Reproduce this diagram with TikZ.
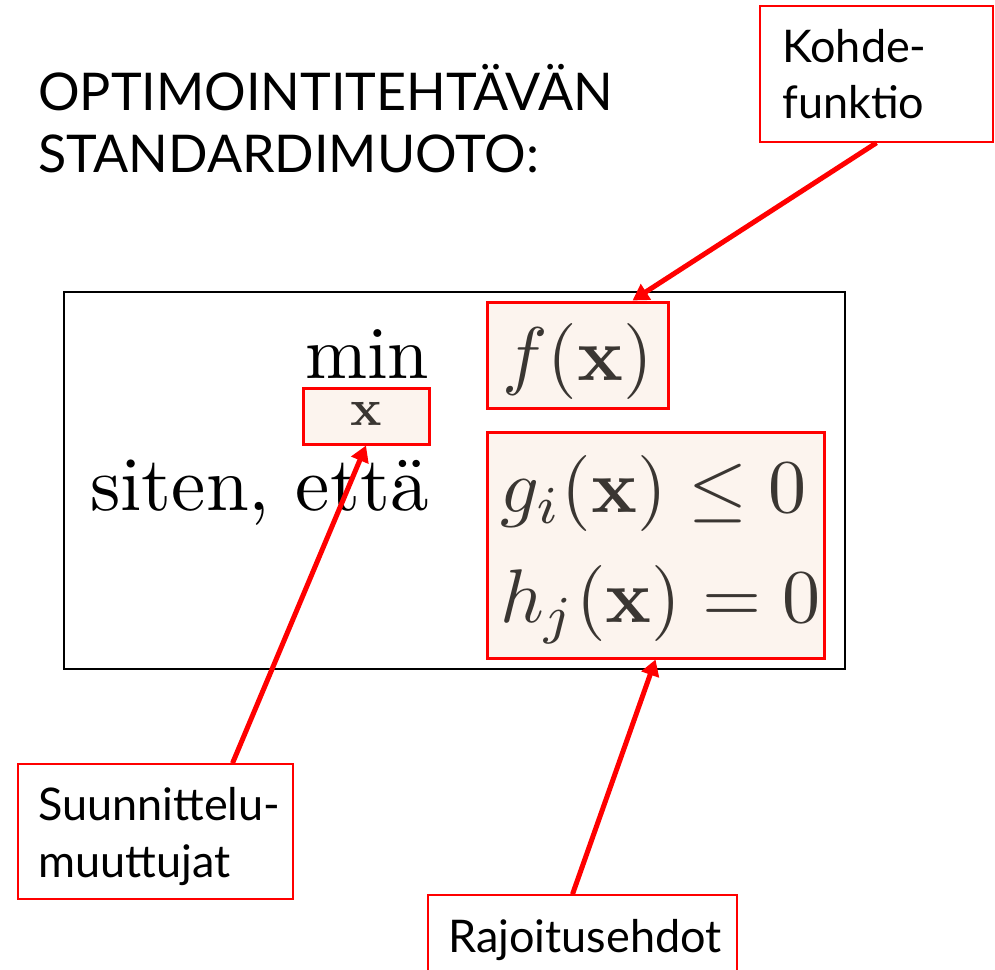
\documentclass[tikz,border=0pt]{standalone}
\usepackage{amsmath}
\usepackage{graphicx}
\usepackage[no-math]{fontspec}
\newfontfamily\gill{Lato}
\usetikzlibrary{arrows.meta,calc}
\definecolor{boxred}{HTML}{FF0000}
\definecolor{beige}{HTML}{FCF4EE}
\definecolor{mathgray}{HTML}{3A3632}
\newcommand{\hugemath}[1]{\scalebox{7.6}{$#1$}}
\newcommand{\hugetext}[2]{\scalebox{#1}{#2}}
\begin{document}
\begin{tikzpicture}[x=1pt,y=-1pt,
  rbox/.style={draw=boxred, line width=3pt, fill=beige, inner sep=0, rectangle},
  lbox/.style={draw=boxred, line width=1.6pt, fill=white, inner sep=0, rectangle},
  lbl/.style={anchor=base west, inner sep=0, font=\gill\fontsize{45}{54}\selectfont},
  ttl/.style={anchor=base west, inner sep=0, font=\gill\fontsize{52}{62}\selectfont},
  mth/.style={anchor=base west, inner sep=0, font=\rmfamily\fontsize{10}{12}\selectfont},
  arr/.style={draw=boxred, line width=5pt, -{Triangle[length=16pt,width=18pt]}}]
\useasboundingbox (0,0) rectangle (995,969);
% title
\node[ttl] (t1) at (38,110) {OPTIMOINTITEHTÄVÄN};
\node[ttl] (t2) at (38,172) {STANDARDIMUOTO:};
% main frame
\node[draw=black, line width=1.4pt, minimum width=781pt, minimum height=377pt, inner sep=0] (frame) at (454.5,480.5) {};
% highlight boxes
\node[rbox, minimum width=181pt, minimum height=106pt] (fbox) at (577.5,355) {};
\node[rbox, minimum width=337pt, minimum height=226pt] (cbox) at (655.5,545) {};
\node[rbox, minimum width=126pt, minimum height=56pt] (xbox) at (366,416) {};
% math text
\node[mth] (min) at (305,378) {\hugetext{7.45}{min}};
\node[anchor=base, inner sep=0, text=mathgray, font=\fontsize{10}{12}\selectfont] (xsub) at (366,425) {\scalebox{5.2}{$\mathbf{x}$}};
\node[mth] (siten) at (90,510) {\hugetext{7.7}{siten, että}};
\node[mth, text=mathgray] (f) at (502,380) {\hugemath{f(\mathbf{x})}};
\node[mth, text=mathgray] (g) at (500,512) {\hugemath{g_i(\mathbf{x})\leq 0}};
\node[mth, text=mathgray] (h) at (500,622) {\hugemath{h_j(\mathbf{x})=0}};
% label boxes
\node[lbox, minimum width=233pt, minimum height=136pt] (kohde) at (876.5,74) {};
\node[lbl] (k1) at (782,62) {Kohde-};
\node[lbl] (k2) at (782,118) {funktio};
\node[lbox, minimum width=275pt, minimum height=135pt] (suun) at (155.5,831.5) {};
\node[lbl] (s1) at (38,820) {Suunnittelu-};
\node[lbl] (s2) at (38,877) {muuttujat};
\node[lbox, minimum width=309pt, minimum height=150pt] (raj) at (582.5,970) {};
\node[lbl] (r1) at (448,952) {Rajoitusehdot};
% arrows
\draw[arr] (kohde.south) -- ([xshift=55pt]fbox.north);
\draw[arr] ([xshift=77pt]suun.north) -- (xbox.south);
\draw[arr] ([xshift=-10pt]raj.north) -- (cbox.south);
\end{tikzpicture}
\end{document}
